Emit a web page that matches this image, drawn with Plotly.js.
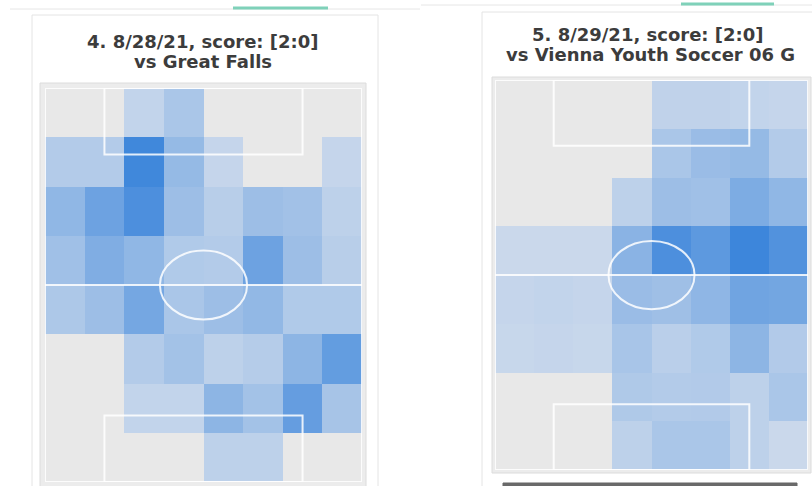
<!DOCTYPE html>
<html>
<head>
<meta charset="utf-8">
<script src="https://cdn.plot.ly/plotly-3.0.1.min.js"></script>
<style>html,body{margin:0;padding:0;background:#fff;}#chart{width:812px;height:486px;}</style>
</head>
<body>
<div id="chart"></div>
<script>
// Grid columns / rows of each pitch (8 x 8 zones)
const columns = [0, 1, 2, 3, 4, 5, 6, 7];
const rows = [0, 1, 2, 3, 4, 5, 6, 7];

// Match titles (two lines each)
const titleGame4 = ["4. 8/28/21, score: [2:0]", "vs Great Falls"];
const titleGame5 = ["5. 8/29/21, score: [2:0]", "vs Vienna Youth Soccer 06 G"];

// Game 4 touch intensity per zone (rows top -> bottom)
const game4 = [
  [0, 0, 1.8, 3.2, 0, 0, 0, 0],
  [2.6, 2.6, 9.8, 4.5, 1.7, 0, 0, 1.7],
  [4.8, 7.0, 9.0, 4.0, 2.3, 4.0, 3.7, 2.0],
  [3.8, 5.8, 4.8, 2.8, 2.6, 7.0, 4.0, 2.3],
  [3.0, 4.0, 6.5, 3.2, 4.0, 4.7, 2.8, 2.8],
  [0, 0, 2.6, 3.6, 2.0, 2.5, 5.0, 7.6],
  [0, 0, 1.8, 1.8, 5.0, 3.6, 7.5, 3.4],
  [0, 0, 0, 0, 2.0, 2.0, 0, 0]
];

// Game 5 touch intensity per zone (rows top -> bottom)
const game5 = [
  [0, 0, 0, 0, 1.9, 1.9, 1.8, 1.7],
  [0, 0, 0, 0, 3.2, 4.2, 4.5, 2.6],
  [0, 0, 0, 2.0, 4.0, 3.8, 6.0, 4.8],
  [1.5, 1.5, 1.5, 5.2, 9.0, 8.0, 10.0, 8.7],
  [1.7, 1.8, 1.7, 4.2, 3.9, 4.9, 6.8, 6.6],
  [1.6, 1.7, 1.6, 3.3, 2.2, 2.8, 5.0, 2.7],
  [0, 0, 0, 2.9, 2.6, 2.7, 2.0, 3.2],
  [0, 0, 0, 2.0, 3.2, 3.2, 2.0, 1.5]
];

const W = 812, H = 486;
const px = x => x / W;
const py = y => 1 - y / H;

const colorscale = [
  [0, '#e8e8e8'], [0.12, '#e8e8e8'], [0.13, '#cfdbec'],
  [0.2, '#bdd1ea'], [1, '#3d86db']
];

function hm(z, xa, ya) {
  return {
    type: 'heatmap', z: z, x: columns, y: rows, xaxis: xa, yaxis: ya,
    zmin: 0, zmax: 10, colorscale: colorscale, showscale: false,
    hoverinfo: 'skip', zsmooth: false
  };
}

const data = [hm(game4, 'x', 'y'), hm(game5, 'x2', 'y2')];

function axis(dom, anchor, rev) {
  const a = {domain: dom, anchor: anchor, visible: false, showgrid: false,
             zeroline: false, fixedrange: true};
  a.range = rev ? [7.5, -0.5] : [-0.5, 7.5];
  return a;
}

// pitch geometry (pixel boxes)
const pitchL = {x0: 45, x1: 362, y0: 88, y1: 482, ox0: 40, ox1: 366, oy0: 83, oy1: 490};
const pitchR = {x0: 495, x1: 808, y0: 80, y1: 470, ox0: 492, ox1: 811, oy0: 77, oy1: 473};

const lineStyle = {color: 'rgba(255,255,255,0.85)', width: 2};

function pitchShapes(xr, yr) {
  return [
    {type: 'rect', xref: xr, yref: yr, x0: -0.5, x1: 7.5, y0: -0.5, y1: 7.5, line: lineStyle, layer: 'above'},
    {type: 'rect', xref: xr, yref: yr, x0: 1.0, x1: 6.0, y0: -0.5, y1: 0.85, line: lineStyle, layer: 'above'},
    {type: 'rect', xref: xr, yref: yr, x0: 1.0, x1: 6.0, y0: 6.15, y1: 7.5, line: lineStyle, layer: 'above'},
    {type: 'line', xref: xr, yref: yr, x0: -0.5, x1: 7.5, y0: 3.5, y1: 3.5, line: lineStyle, layer: 'above'},
    {type: 'circle', xref: xr, yref: yr, x0: 2.4, x1: 4.6, y0: 2.8, y1: 4.2, line: lineStyle, layer: 'above'}
  ];
}

const shapes = [
  // top nav lines
  {type: 'line', xref: 'paper', yref: 'paper', x0: px(10), x1: px(420), y0: py(9), y1: py(9), line: {color: '#e6e6e6', width: 1}},
  {type: 'line', xref: 'paper', yref: 'paper', x0: px(421), x1: px(812), y0: py(5), y1: py(5), line: {color: '#e6e6e6', width: 1}},
  {type: 'line', xref: 'paper', yref: 'paper', x0: px(233), x1: px(328), y0: py(8), y1: py(8), line: {color: '#7fd1b9', width: 3}},
  {type: 'line', xref: 'paper', yref: 'paper', x0: px(681), x1: px(774), y0: py(4), y1: py(4), line: {color: '#7fd1b9', width: 3}},
  // cards
  {type: 'rect', xref: 'paper', yref: 'paper', x0: px(32), x1: px(378), y0: py(15), y1: py(495), line: {color: '#e4e4e4', width: 1}, fillcolor: '#ffffff', layer: 'below'},
  {type: 'rect', xref: 'paper', yref: 'paper', x0: px(482), x1: px(830), y0: py(12), y1: py(495), line: {color: '#e4e4e4', width: 1}, fillcolor: '#ffffff', layer: 'below'},
  // pitch frames
  {type: 'rect', xref: 'paper', yref: 'paper', x0: px(pitchL.ox0), x1: px(pitchL.ox1), y0: py(pitchL.oy0), y1: py(pitchL.oy1), line: {color: '#dcdcdc', width: 1}, fillcolor: '#ececec', layer: 'below'},
  {type: 'rect', xref: 'paper', yref: 'paper', x0: px(pitchR.ox0), x1: px(pitchR.ox1), y0: py(pitchR.oy0), y1: py(pitchR.oy1), line: {color: '#dcdcdc', width: 1}, fillcolor: '#ececec', layer: 'below'},
  // dark button at bottom right
  {type: 'rect', xref: 'paper', yref: 'paper', x0: px(503), x1: px(797), y0: py(483), y1: py(500), line: {color: '#666666', width: 1}, fillcolor: '#6a6a6a', layer: 'above'}
].concat(pitchShapes('x', 'y'), pitchShapes('x2', 'y2'));

const titleFont = {family: 'DejaVu Sans, sans-serif', size: 18, color: '#3c3c3c', weight: 'bold'};

function titleLine(text, cx, cy) {
  return {text: text, xref: 'paper', yref: 'paper', x: px(cx), y: py(cy),
          xanchor: 'center', yanchor: 'middle', showarrow: false, font: titleFont};
}

const layout = {
  width: W, height: H,
  margin: {l: 0, r: 0, t: 0, b: 0},
  paper_bgcolor: '#ffffff', plot_bgcolor: '#e8e8e8',
  showlegend: false,
  xaxis: axis([px(pitchL.x0), px(pitchL.x1)], 'y', false),
  yaxis: axis([py(pitchL.y1), py(pitchL.y0)], 'x', true),
  xaxis2: axis([px(pitchR.x0), px(pitchR.x1)], 'y2', false),
  yaxis2: axis([py(pitchR.y1), py(pitchR.y0)], 'x2', true),
  shapes: shapes,
  annotations: [
    titleLine(titleGame4[0], 203, 42),
    titleLine(titleGame4[1], 203, 62),
    titleLine(titleGame5[0], 648, 35),
    titleLine(titleGame5[1], 650, 55)
  ]
};

Plotly.newPlot('chart', data, layout, {staticPlot: true, displayModeBar: false});
</script>
</body>
</html>
